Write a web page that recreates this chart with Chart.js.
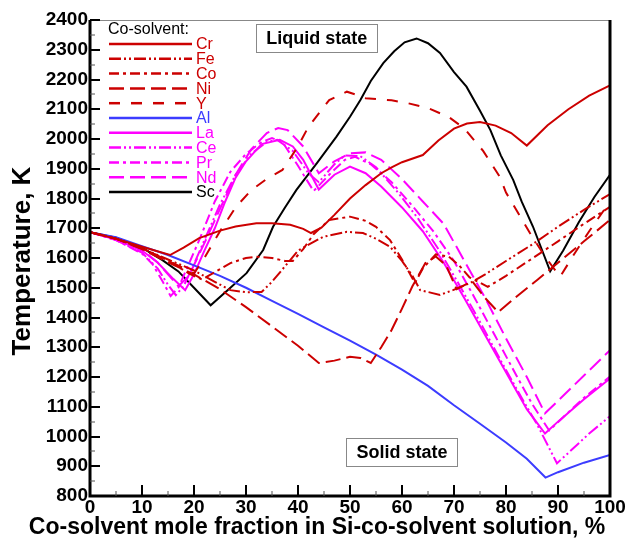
<!DOCTYPE html>
<html>
<head>
<meta charset="utf-8">
<script src="https://cdn.jsdelivr.net/npm/chart.js@4.4.1/dist/chart.umd.min.js"></script>
<style>
  html, body { margin: 0; padding: 0; background: #fff; }
  #wrap { width: 628px; height: 542px; }
</style>
</head>
<body>
<div id="wrap"><canvas id="cv" width="628" height="542"></canvas></div>
<script>
// liquidus curves, T in K vs co-solvent mole fraction in %
const xCr = [0, 5, 10, 15.4, 18, 21, 25, 28, 32, 35, 38.5, 41, 42.5, 44.5, 47, 50, 53, 56, 58, 60, 64, 67, 70, 72.5, 75, 78, 81, 84, 88, 92, 96, 100];
const tCr = [1687, 1665, 1638, 1610, 1635, 1667, 1692, 1706, 1717, 1717, 1712, 1698, 1684, 1702, 1745, 1800, 1845, 1885, 1905, 1922, 1946, 1995, 2035, 2052, 2057, 2045, 2020, 1978, 2046, 2100, 2146, 2180];

const xFe = [0, 5, 10, 15, 20, 24, 27, 30, 33, 35, 38.5, 40, 44.8, 49.4, 52.5, 55, 57.7, 60, 62, 63.5, 67.3, 69.8, 73, 76, 80, 85, 90, 95, 100];
const tFe = [1687, 1665, 1632, 1595, 1558, 1520, 1492, 1485, 1486, 1520, 1593, 1625, 1671, 1688, 1684, 1665, 1638, 1590, 1540, 1492, 1476, 1492, 1515, 1545, 1590, 1645, 1705, 1762, 1815];

const xCo = [0, 5, 10, 15, 19, 21.5, 24, 27, 30, 32, 35, 37.5, 39, 41, 43, 46, 50, 53, 55, 57.7, 60, 62.5, 64, 66.5, 69, 71, 73, 76.5, 80, 85, 90, 95, 100];
const tCo = [1687, 1665, 1633, 1592, 1548, 1528, 1552, 1583, 1600, 1604, 1600, 1590, 1590, 1630, 1680, 1728, 1739, 1725, 1705, 1660, 1595, 1516, 1565, 1612, 1605, 1575, 1535, 1503, 1540, 1598, 1656, 1715, 1772];

const xNi = [0, 5, 10, 15, 20, 25, 30, 35, 40, 44, 47, 50, 52, 54, 56, 58, 60, 62, 64.5, 66.5, 68.5, 70.5, 73.5, 76, 78.5, 82, 86, 90, 95, 100];
const tNi = [1687, 1665, 1630, 1585, 1545, 1495, 1435, 1370, 1305, 1247, 1255, 1268, 1264, 1247, 1300, 1358, 1430, 1505, 1583, 1605, 1575, 1495, 1522, 1465, 1418, 1470, 1526, 1584, 1656, 1728];

const xY = [0, 5, 10, 15, 20, 22, 25, 28, 31, 34, 37, 40, 42, 46, 49.4, 51, 53, 58, 61, 65, 69, 72, 75.6, 78.8, 80, 84.6, 87.5, 90.4, 93, 96, 100];
const tY = [1687, 1665, 1632, 1592, 1548, 1600, 1690, 1770, 1828, 1866, 1896, 1975, 2041, 2131, 2159, 2150, 2137, 2130, 2121, 2104, 2074, 2035, 1960, 1873, 1820, 1684, 1605, 1537, 1610, 1690, 1790];

const xAl = [0, 5, 10, 15, 20, 25, 30, 35, 40, 45, 50, 55, 60, 65, 70, 75, 80, 84, 87.6, 90, 95, 100];
const tAl = [1687, 1670, 1640, 1610, 1575, 1540, 1500, 1456, 1412, 1367, 1322, 1275, 1225, 1170, 1105, 1043, 980, 925, 862, 880, 912, 938];

const xLa = [0, 5, 10, 13, 16, 18.3, 20, 22, 24, 26, 28, 30, 33, 36.5, 39, 41, 44, 47, 50, 53, 56, 60, 64, 68, 72, 76, 80, 84, 87.5, 90, 95, 100];
const tLa = [1687, 1662, 1625, 1585, 1530, 1492, 1545, 1625, 1700, 1790, 1870, 1925, 1983, 1997, 1975, 1930, 1830, 1880, 1907, 1885, 1840, 1770, 1690, 1585, 1465, 1340, 1216, 1092, 1010, 1050, 1125, 1195];

const xCe = [0, 5, 10, 13, 15, 16.5, 18, 20, 22, 25, 28, 31, 34, 36, 39, 42, 44, 47, 49, 52, 55, 59, 63, 67, 71, 75, 79, 83, 86, 89.8, 92, 96, 100];
const tCe = [1687, 1660, 1618, 1565, 1510, 1475, 1505, 1580, 1660, 1780, 1880, 1950, 1990, 1997, 1960, 1885, 1855, 1915, 1945, 1942, 1905, 1825, 1735, 1630, 1510, 1385, 1255, 1130, 1040, 910, 945, 1010, 1068];

const xPr = [0, 5, 10, 12, 14, 15.5, 17, 19, 21, 24, 27, 30, 33, 35, 37, 40, 43, 46, 49, 51, 54, 58, 62, 66, 70, 74, 78, 82, 85, 88.3, 91, 95, 100];
const tPr = [1687, 1660, 1615, 1580, 1520, 1472, 1500, 1580, 1660, 1790, 1890, 1950, 1990, 2003, 1990, 1910, 1825, 1880, 1930, 1940, 1915, 1855, 1775, 1690, 1590, 1465, 1335, 1205, 1110, 1020, 1065, 1130, 1202];

const xNd = [0, 5, 10, 13, 15, 17, 19, 22, 25, 28, 31, 34, 36.2, 38, 41, 44, 47, 50, 53, 56, 60, 64, 68, 72, 76, 80, 84, 87.5, 90, 95, 100];
const tNd = [1687, 1663, 1628, 1585, 1545, 1505, 1540, 1650, 1765, 1880, 1965, 2020, 2037, 2030, 1975, 1885, 1925, 1952, 1955, 1930, 1865, 1790, 1715, 1590, 1465, 1330, 1200, 1078, 1120, 1205, 1290];

const xSc = [0, 5, 10, 14, 17, 20, 23.2, 27, 30.1, 33.3, 35.2, 37.5, 39.7, 43.6, 47.4, 50, 52, 54, 56.4, 58.5, 60.5, 62.8, 65, 67.3, 70, 72.4, 75, 77, 79, 81.4, 83, 85.2, 88.5, 91, 94, 97, 100];
const tSc = [1687, 1668, 1635, 1592, 1555, 1500, 1441, 1500, 1549, 1627, 1705, 1770, 1829, 1918, 2008, 2075, 2131, 2195, 2255, 2295, 2325, 2338, 2322, 2289, 2225, 2176, 2095, 2030, 1945, 1862, 1790, 1705, 1555, 1625, 1720, 1805, 1880];

const RED = "#cc0000", BLUE = "#3c3cff", MAG = "#ff00ff", BLK = "#000000";
const FONT = "'Liberation Sans', Arial, sans-serif";
const xTitle = "Co-solvent mole fraction in Si-co-solvent solution, %";
const yTitle = "Temperature, K";

const series = [
  { label: "Cr", xs: xCr, ts: tCr, color: RED, dash: [] },
  { label: "Fe", xs: xFe, ts: tFe, color: RED, dash: [12, 3, 2, 3, 2, 3] },
  { label: "Co", xs: xCo, ts: tCo, color: RED, dash: [10, 4, 3, 4] },
  { label: "Ni", xs: xNi, ts: tNi, color: RED, dash: [15, 6] },
  { label: "Y",  xs: xY,  ts: tY,  color: RED, dash: [11, 11] },
  { label: "Al", xs: xAl, ts: tAl, color: BLUE, dash: [] },
  { label: "La", xs: xLa, ts: tLa, color: MAG, dash: [] },
  { label: "Ce", xs: xCe, ts: tCe, color: MAG, dash: [12, 3, 2, 3, 2, 3] },
  { label: "Pr", xs: xPr, ts: tPr, color: MAG, dash: [10, 4, 3, 4] },
  { label: "Nd", xs: xNd, ts: tNd, color: MAG, dash: [15, 6] },
  { label: "Sc", xs: xSc, ts: tSc, color: BLK, dash: [] }
];

const stateLabels = [
  { text: "Liquid state", x: 43.6, y: 2339 },
  { text: "Solid state", x: 60, y: 948 }
];

// axes box, inward ticks with minor ticks, titles, boxed labels and legend
const framePlugin = {
  id: "frame",
  afterDatasetsDraw(chart) {
    const { ctx, chartArea: a, scales } = chart;
    const xs = scales.x, ys = scales.y;
    ctx.save();
    ctx.strokeStyle = "#888";
    ctx.lineWidth = 1;
    ctx.beginPath();
    ctx.moveTo(a.left, a.top + 0.5);
    ctx.lineTo(a.right, a.top + 0.5);
    ctx.stroke();

    ctx.strokeStyle = "#000";
    ctx.lineWidth = 3;
    ctx.beginPath();
    ctx.moveTo(a.left, a.top);
    ctx.lineTo(a.left, a.bottom);
    ctx.lineTo(a.right, a.bottom);
    ctx.lineTo(a.right, a.top);
    ctx.stroke();

    for (let v = 800; v <= 2400; v += 50) {
      const major = v % 100 === 0;
      const py = Math.round(ys.getPixelForValue(v));
      ctx.lineWidth = major ? 2 : 1;
      ctx.strokeStyle = major ? "#000" : "#555";
      ctx.beginPath();
      ctx.moveTo(a.left, py);
      ctx.lineTo(a.left + (major ? 10 : 5), py);
      ctx.stroke();
    }
    for (let v = 0; v <= 100; v += 5) {
      const major = v % 10 === 0;
      const px = Math.round(xs.getPixelForValue(v));
      ctx.lineWidth = major ? 2 : 1;
      ctx.strokeStyle = major ? "#000" : "#555";
      ctx.beginPath();
      ctx.moveTo(px, a.bottom);
      ctx.lineTo(px, a.bottom - (major ? 11 : 5));
      ctx.stroke();
    }

    // axis titles
    ctx.fillStyle = "#000";
    ctx.textAlign = "center";
    ctx.textBaseline = "middle";
    ctx.font = "bold 23px " + FONT;
    ctx.fillText(xTitle, (a.left + a.right) / 2 - 33, 528);
    ctx.save();
    ctx.translate(23, (a.top + a.bottom) / 2 + 3);
    ctx.rotate(-Math.PI / 2);
    ctx.font = "bold 26px " + FONT;
    ctx.fillText(yTitle, 0, 0);
    ctx.restore();

    // boxed state labels
    ctx.font = "bold 18px " + FONT;
    stateLabels.forEach(s => {
      const cx = xs.getPixelForValue(s.x), cy = ys.getPixelForValue(s.y);
      const w = ctx.measureText(s.text).width + 20, h = 28;
      ctx.fillStyle = "#fff";
      ctx.fillRect(cx - w / 2, cy - h / 2, w, h);
      ctx.strokeStyle = "#888";
      ctx.lineWidth = 1;
      ctx.strokeRect(Math.round(cx - w / 2) + 0.5, Math.round(cy - h / 2) + 0.5, Math.round(w), h);
      ctx.fillStyle = "#000";
      ctx.fillText(s.text, cx, cy + 1);
    });

    // legend
    const lx = a.left + 19, ly = a.top + 24, step = 14.8;
    ctx.textAlign = "left";
    ctx.font = "16px " + FONT;
    ctx.fillStyle = "#000";
    ctx.fillText("Co-solvent:", a.left + 18, a.top + 10);
    chart.data.datasets.forEach((ds, i) => {
      const y = ly + i * step;
      ctx.strokeStyle = ds.borderColor;
      ctx.lineWidth = 2.5;
      ctx.setLineDash(ds.borderDash);
      ctx.beginPath();
      ctx.moveTo(lx, y);
      ctx.lineTo(lx + 83, y);
      ctx.stroke();
      ctx.setLineDash([]);
      ctx.fillStyle = ds.borderColor;
      ctx.fillText(ds.label, lx + 87, y + 1);
    });
    ctx.restore();
  }
};

const ctx = document.getElementById("cv").getContext("2d");
new Chart(ctx, {
  type: "line",
  data: {
    datasets: series.map(s => ({
      label: s.label,
      data: s.xs.map((x, i) => ({ x: x, y: s.ts[i] })),
      borderColor: s.color,
      borderDash: s.dash,
      borderWidth: 2,
      pointRadius: 0,
      tension: 0,
      fill: false
    }))
  },
  options: {
    responsive: false,
    animation: false,
    layout: { padding: { left: 0, right: 18, top: 20, bottom: 0 } },
    plugins: { legend: { display: false }, tooltip: { enabled: false } },
    scales: {
      x: {
        type: "linear",
        min: 0, max: 100,
        ticks: { stepSize: 10, color: "#000", padding: 0, callback: v => String(v),
                 font: { family: FONT, size: 19, weight: "bold" } },
        grid: { display: false, drawTicks: false },
        border: { display: false },
        afterFit(scale) { scale.height = 46; }
      },
      y: {
        min: 800, max: 2400,
        ticks: { stepSize: 100, color: "#000", padding: 2, callback: v => String(v),
                 font: { family: FONT, size: 19, weight: "bold" } },
        grid: { display: false, drawTicks: false },
        border: { display: false },
        afterFit(scale) { scale.width = 90; }
      }
    }
  },
  plugins: [framePlugin]
});
</script>
</body>
</html>
